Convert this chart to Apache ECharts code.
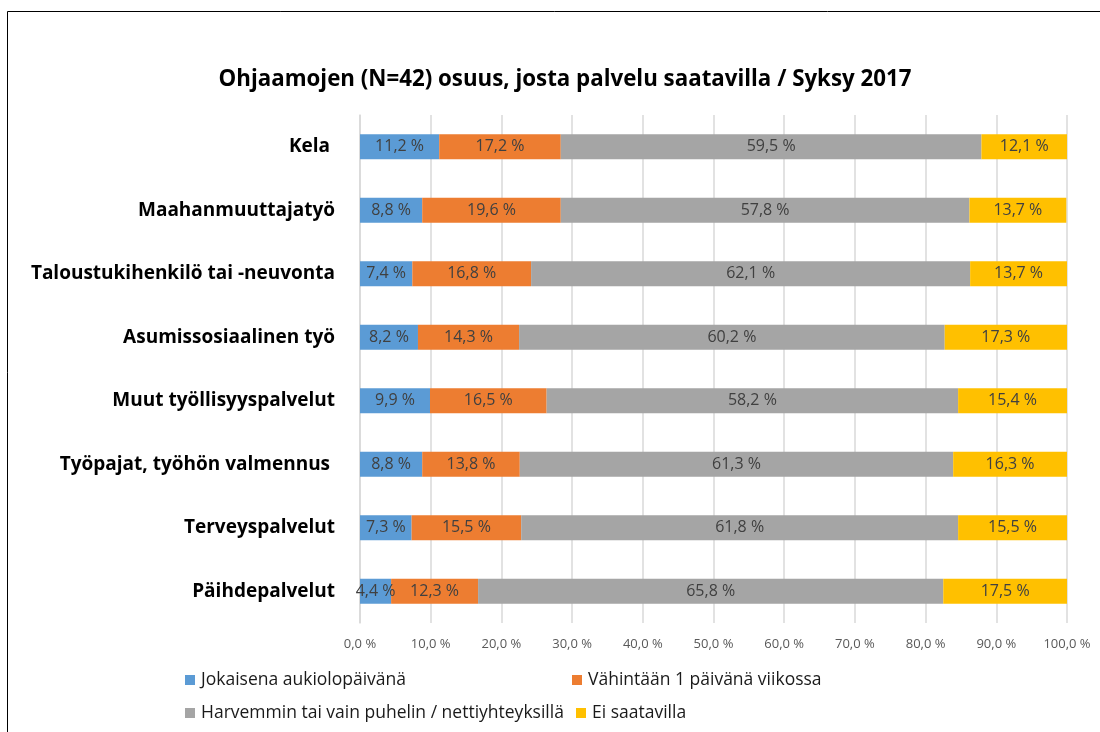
<!DOCTYPE html>
<html>
<head>
<meta charset="utf-8">
<script src="https://cdn.jsdelivr.net/npm/echarts@6/dist/echarts.min.js"></script>
<style>
  html,body{margin:0;padding:0;background:#fff;}
  #chart{width:1100px;height:732px;}
</style>
</head>
<body>
<div id="chart"></div>
<script>
var categories = ["Kela ", "Maahanmuuttajatyö", "Taloustukihenkilö tai -neuvonta", "Asumissosiaalinen työ",
  "Muut työllisyyspalvelut", "Työpajat, työhön valmennus ", "Terveyspalvelut", "Päihdepalvelut"];
var seriesNames = ["Jokaisena aukiolopäivänä", "Vähintään 1 päivänä viikossa",
  "Harvemmin tai vain puhelin / nettiyhteyksillä", "Ei saatavilla"];
var everyDay = [11.2, 8.8, 7.4, 8.2, 9.9, 8.8, 7.3, 4.4];
var weekly = [17.2, 19.6, 16.8, 14.3, 16.5, 13.8, 15.5, 12.3];
var rarely = [59.5, 57.8, 62.1, 60.2, 58.2, 61.3, 61.8, 65.8];
var notAvailable = [12.1, 13.7, 13.7, 17.3, 15.4, 16.3, 15.5, 17.5];
var colors = ["#5B9BD5", "#ED7D31", "#A5A5A5", "#FFC000"];

var font = "'Open Sans', 'Noto Sans', sans-serif";

function pct(v) {
  return v.toFixed(1).replace(".", ",") + " %";
}

var myChart = echarts.init(document.getElementById("chart"));

var allData = [everyDay, weekly, rarely, notAvailable];
var series = [];
for (var i = 0; i < 4; i++) {
  series.push({
    name: seriesNames[i],
    type: "bar",
    stack: "total",
    data: allData[i],
    barWidth: 25,
    itemStyle: { color: colors[i] },
    label: {
      show: true,
      position: "inside",
      color: "#404040",
      fontFamily: font,
      fontSize: 16,
      formatter: function (p) { return pct(p.value); }
    }
  });
}

// legend placed item by item like the original two-row layout
var legendPos = [[180, 666], [567, 666], [180, 699], [571, 699]];
var legends = [];
for (var k = 0; k < 4; k++) {
  legends.push({
    data: [seriesNames[k]],
    left: legendPos[k][0],
    top: legendPos[k][1],
    itemWidth: 10,
    itemHeight: 10,
    icon: "rect",
    itemGap: 4,
    textStyle: { color: "#1a1a1a", fontSize: 17.5, fontFamily: font, padding: [0, 0, 0, 1] },
    selectedMode: false
  });
}

var option = {
  animation: false,
  backgroundColor: "#fff",
  title: {
    text: "Ohjaamojen (N=42) osuus, josta palvelu saatavilla / Syksy 2017",
    left: 560,
    textAlign: "center",
    top: 64,
    textStyle: { color: "#000", fontSize: 22.3, fontWeight: "bold", fontFamily: font }
  },
  graphic: [{
    type: "rect",
    shape: { x: 7.5, y: 11.5, width: 1200, height: 800 },
    style: { fill: "none", stroke: "#000", lineWidth: 1 },
    silent: true
  }],
  legend: legends,
  grid: { left: 360, right: 33, top: 115, bottom: 109 },
  xAxis: {
    type: "value",
    min: 0,
    max: 100,
    interval: 10,
    axisLine: { show: false },
    axisTick: { show: false },
    splitLine: { lineStyle: { color: "#D9D9D9", width: 1.5 } },
    axisLabel: {
      color: "#595959",
      fontSize: 13,
      fontFamily: font,
      margin: 15,
      formatter: function (v) { return pct(v); }
    }
  },
  yAxis: {
    type: "category",
    data: categories,
    inverse: true,
    axisLine: { lineStyle: { color: "#D9D9D9", width: 1.5 } },
    axisTick: { show: false },
    axisLabel: {
      color: "#000",
      fontSize: 19,
      fontWeight: "bold",
      fontFamily: font,
      margin: 25
    }
  },
  series: series
};

myChart.setOption(option);
</script>
</body>
</html>
